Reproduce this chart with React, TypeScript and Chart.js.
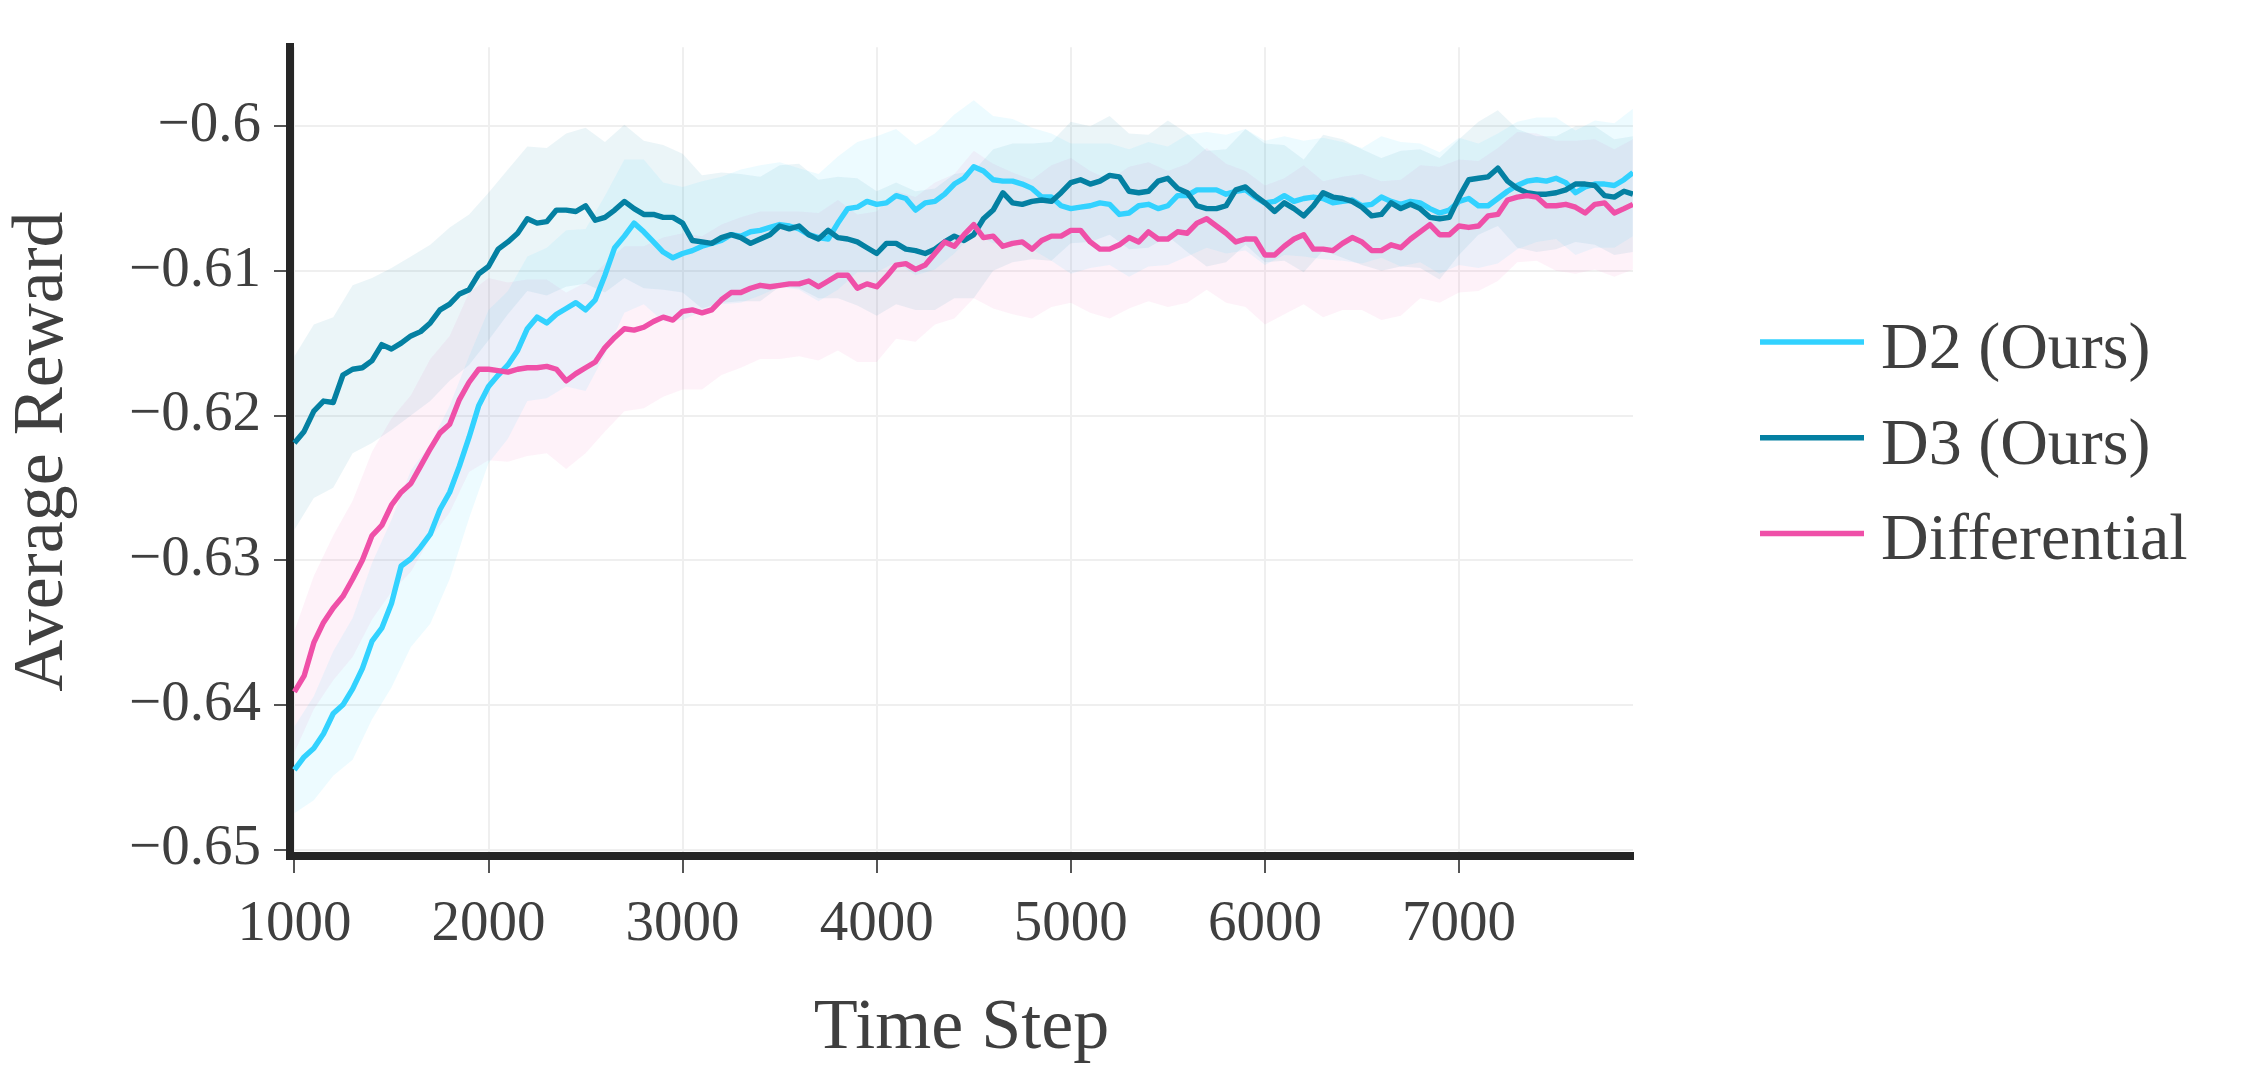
import React, { useEffect, useRef } from "react";
import { Chart, registerables } from "chart.js";

Chart.register(...registerables);

// ---------------- data ----------------
const steps = [
  1000, 1050, 1100, 1150, 1200, 1250, 1300, 1350, 1400, 1450, 1500, 1550, 1600, 1650, 1700, 1750, 1800, 1850, 1900, 1950,
  2000, 2050, 2100, 2150, 2200, 2250, 2300, 2350, 2400, 2450, 2500, 2550, 2600, 2650, 2700, 2750, 2800, 2850, 2900, 2950,
  3000, 3050, 3100, 3150, 3200, 3250, 3300, 3350, 3400, 3450, 3500, 3550, 3600, 3650, 3700, 3750, 3800, 3850, 3900, 3950,
  4000, 4050, 4100, 4150, 4200, 4250, 4300, 4350, 4400, 4450, 4500, 4550, 4600, 4650, 4700, 4750, 4800, 4850, 4900, 4950,
  5000, 5050, 5100, 5150, 5200, 5250, 5300, 5350, 5400, 5450, 5500, 5550, 5600, 5650, 5700, 5750, 5800, 5850, 5900, 5950,
  6000, 6050, 6100, 6150, 6200, 6250, 6300, 6350, 6400, 6450, 6500, 6550, 6600, 6650, 6700, 6750, 6800, 6850, 6900, 6950,
  7000, 7050, 7100, 7150, 7200, 7250, 7300, 7350, 7400, 7450, 7500, 7550, 7600, 7650, 7700, 7750, 7800, 7850, 7896,
];

const d2Mean = [
  -0.6445, -0.6436, -0.6430, -0.6420, -0.6406, -0.6400, -0.6389, -0.6375, -0.6356, -0.6347, -0.6330, -0.6304, -0.6299, -0.6291, -0.6282, -0.6265, -0.6253, -0.6235, -0.6215, -0.6193,
  -0.6180, -0.6172, -0.6165, -0.6155, -0.6140, -0.6132, -0.6136, -0.6130, -0.6126, -0.6122, -0.6127, -0.6120, -0.6103, -0.6084, -0.6076, -0.6067, -0.6073, -0.6080, -0.6087, -0.6091,
  -0.6088, -0.6086, -0.6083, -0.6081, -0.6079, -0.6075, -0.6076, -0.6073, -0.6072, -0.6070, -0.6068, -0.6069, -0.6071, -0.6075, -0.6077, -0.6078, -0.6067, -0.6057, -0.6056, -0.6052,
  -0.6054, -0.6053, -0.6048, -0.6050, -0.6058, -0.6053, -0.6052, -0.6047, -0.6040, -0.6036, -0.6028, -0.6031, -0.6037, -0.6038, -0.6038, -0.6040, -0.6043, -0.6049, -0.6049, -0.6055,
  -0.6057, -0.6056, -0.6055, -0.6053, -0.6054, -0.6061, -0.6060, -0.6055, -0.6054, -0.6057, -0.6055, -0.6048, -0.6048, -0.6044, -0.6044, -0.6044, -0.6047, -0.6045, -0.6044, -0.6049,
  -0.6053, -0.6052, -0.6048, -0.6052, -0.6050, -0.6049, -0.6050, -0.6053, -0.6052, -0.6051, -0.6055, -0.6054, -0.6049, -0.6052, -0.6054, -0.6052, -0.6053, -0.6057, -0.6060, -0.6058,
  -0.6052, -0.6050, -0.6055, -0.6055, -0.6050, -0.6045, -0.6041, -0.6038, -0.6037, -0.6038, -0.6036, -0.6039, -0.6046, -0.6042, -0.6040, -0.6040, -0.6041, -0.6037, -0.6032,
];

const d3Mean = [
  -0.6219, -0.6211, -0.6197, -0.6190, -0.6191, -0.6172, -0.6168, -0.6167, -0.6162, -0.6151, -0.6154, -0.6150, -0.6145, -0.6142, -0.6136, -0.6127, -0.6123, -0.6116, -0.6113, -0.6102,
  -0.6097, -0.6085, -0.6080, -0.6074, -0.6064, -0.6067, -0.6066, -0.6058, -0.6058, -0.6059, -0.6055, -0.6065, -0.6063, -0.6058, -0.6052, -0.6057, -0.6061, -0.6061, -0.6063, -0.6063,
  -0.6067, -0.6079, -0.6080, -0.6081, -0.6077, -0.6075, -0.6077, -0.6081, -0.6078, -0.6075, -0.6069, -0.6071, -0.6069, -0.6075, -0.6078, -0.6072, -0.6077, -0.6078, -0.6080, -0.6084,
  -0.6088, -0.6081, -0.6081, -0.6085, -0.6086, -0.6088, -0.6085, -0.6080, -0.6076, -0.6079, -0.6075, -0.6064, -0.6058, -0.6046, -0.6053, -0.6054, -0.6052, -0.6051, -0.6052, -0.6046,
  -0.6039, -0.6037, -0.6040, -0.6038, -0.6034, -0.6035, -0.6045, -0.6046, -0.6045, -0.6038, -0.6036, -0.6043, -0.6046, -0.6055, -0.6057, -0.6057, -0.6055, -0.6044, -0.6042, -0.6048,
  -0.6053, -0.6059, -0.6053, -0.6057, -0.6062, -0.6055, -0.6046, -0.6049, -0.6050, -0.6052, -0.6056, -0.6062, -0.6061, -0.6053, -0.6057, -0.6054, -0.6057, -0.6063, -0.6064, -0.6063,
  -0.6049, -0.6037, -0.6036, -0.6035, -0.6029, -0.6038, -0.6043, -0.6046, -0.6047, -0.6047, -0.6046, -0.6044, -0.6040, -0.6040, -0.6041, -0.6048, -0.6049, -0.6045, -0.6047,
];

const diffMean = [
  -0.6391, -0.6380, -0.6357, -0.6343, -0.6333, -0.6325, -0.6313, -0.6300, -0.6283, -0.6276, -0.6262, -0.6253, -0.6247, -0.6235, -0.6223, -0.6212, -0.6206, -0.6189, -0.6177, -0.6168,
  -0.6168, -0.6169, -0.6170, -0.6168, -0.6167, -0.6167, -0.6166, -0.6168, -0.6176, -0.6171, -0.6167, -0.6163, -0.6153, -0.6146, -0.6140, -0.6141, -0.6139, -0.6135, -0.6132, -0.6134,
  -0.6128, -0.6127, -0.6129, -0.6127, -0.6120, -0.6115, -0.6115, -0.6112, -0.6110, -0.6111, -0.6110, -0.6109, -0.6109, -0.6107, -0.6111, -0.6107, -0.6103, -0.6103, -0.6112, -0.6109,
  -0.6111, -0.6104, -0.6096, -0.6095, -0.6099, -0.6096, -0.6088, -0.6080, -0.6083, -0.6075, -0.6068, -0.6077, -0.6076, -0.6083, -0.6081, -0.6080, -0.6085, -0.6079, -0.6076, -0.6076,
  -0.6072, -0.6072, -0.6080, -0.6085, -0.6085, -0.6082, -0.6077, -0.6080, -0.6073, -0.6078, -0.6078, -0.6073, -0.6074, -0.6067, -0.6064, -0.6069, -0.6074, -0.6080, -0.6078, -0.6078,
  -0.6089, -0.6089, -0.6083, -0.6078, -0.6075, -0.6085, -0.6085, -0.6086, -0.6081, -0.6077, -0.6080, -0.6086, -0.6086, -0.6082, -0.6084, -0.6078, -0.6073, -0.6068, -0.6075, -0.6075,
  -0.6069, -0.6070, -0.6069, -0.6062, -0.6061, -0.6051, -0.6049, -0.6048, -0.6049, -0.6055, -0.6055, -0.6054, -0.6056, -0.6060, -0.6054, -0.6053, -0.6060, -0.6057, -0.6054,
];

// standard deviation (x 0.001), one value for every second entry of `steps`
const d2Std = [
  3.0, 3.6, 4.3, 4.9, 5.4, 5.8, 6.1, 6.2, 6.0, 5.6, 5.3, 5.1, 5.0, 5.2, 5.4, 5.6, 5.5, 5.3, 5.0, 4.8,
  4.6, 4.5, 4.4, 4.6, 4.5, 4.3, 4.2, 4.4, 4.6, 4.5, 4.7, 4.6, 4.5, 4.7, 4.8, 4.6, 4.4, 4.3, 4.2, 4.4,
  4.5, 4.3, 4.2, 4.4, 4.3, 4.1, 4.2, 4.0, 4.1, 4.2, 4.3, 4.1, 4.0, 4.2, 4.1, 4.0, 4.2, 4.3, 4.1, 4.2,
  4.4, 4.3, 4.5, 4.4, 4.3, 4.2, 4.3, 4.4, 4.3, 4.4,
];
const d3Std = [
  6.0, 6.0, 5.9, 5.8, 5.7, 5.6, 5.5, 5.4, 5.3, 5.2, 5.1, 5.0, 5.0, 5.1, 5.3, 5.4, 5.2, 5.3, 5.1, 5.0,
  4.8, 4.6, 4.5, 4.4, 4.3, 4.2, 4.3, 4.1, 4.2, 4.4, 4.3, 4.2, 4.1, 4.2, 4.3, 4.4, 4.2, 4.1, 4.0, 4.1,
  4.2, 4.0, 4.1, 4.0, 3.9, 4.0, 4.1, 4.0, 3.9, 4.0, 4.1, 4.0, 3.9, 4.0, 4.1, 4.0, 3.9, 4.0, 4.1, 4.2,
  4.0, 3.9, 4.0, 4.1, 4.0, 3.9, 4.0, 4.1, 4.0, 4.0,
];
const diffStd = [
  4.2, 4.6, 5.0, 5.4, 5.8, 6.0, 6.1, 6.2, 6.1, 6.2, 6.3, 6.2, 6.1, 6.0, 6.1, 5.9, 5.8, 5.7, 5.6, 5.5,
  5.4, 5.3, 5.2, 5.2, 5.1, 5.1, 5.0, 5.1, 5.2, 5.1, 5.2, 5.1, 5.0, 4.9, 5.0, 5.1, 5.0, 4.9, 4.8, 4.9,
  5.0, 4.9, 4.8, 4.9, 4.8, 4.7, 4.8, 4.9, 4.8, 4.7, 4.8, 4.7, 4.8, 4.7, 4.6, 4.7, 4.8, 4.7, 4.6, 4.7,
  4.6, 4.5, 4.6, 4.5, 4.4, 4.5, 4.6, 4.5, 4.4, 4.5,
];

const seriesNames = ["D2 (Ours)", "D3 (Ours)", "Differential"];
const seriesColors = ["#32d2ff", "#0480a2", "#ef50a8"];
const bandColors = ["rgba(50,210,255,0.085)", "rgba(4,128,162,0.08)", "rgba(239,80,168,0.075)"];

const xTicks = [1000, 2000, 3000, 4000, 5000, 6000, 7000];
const yTicks = [-0.65, -0.64, -0.63, -0.62, -0.61, -0.6];

const xTitle = "Time Step";
const yTitle = "Average Reward";

// ---------------- chart ----------------
const FONT = "'Liberation Serif', 'Times New Roman', Times, serif";
const TEXT = "#3f3f3f";

const means = [d2Mean, d3Mean, diffMean];
const stds = [d2Std, d3Std, diffStd];

function linePoints(mean: number[]) {
  return mean.map((v, i) => ({ x: steps[i], y: v }));
}
function bandPoints(mean: number[], std: number[], sign: number) {
  return std.map((s, j) => ({ x: steps[2 * j], y: mean[2 * j] + sign * s / 1000 }));
}

const sideLegend = {
  id: "sideLegend",
  afterDraw(chart: any) {
    const ctx = chart.ctx as CanvasRenderingContext2D;
    const right = chart.chartArea.right;
    ctx.save();
    seriesNames.forEach((name, i) => {
      const cy = 342 + i * 95.7;
      ctx.strokeStyle = seriesColors[i];
      ctx.lineWidth = 5.5;
      ctx.lineCap = "butt";
      ctx.beginPath();
      ctx.moveTo(right + 127, cy);
      ctx.lineTo(right + 231, cy);
      ctx.stroke();
      ctx.fillStyle = TEXT;
      ctx.font = `66px ${FONT}`;
      ctx.textAlign = "left";
      ctx.textBaseline = "alphabetic";
      ctx.fillText(name, right + 248, cy + 26);
    });
    ctx.restore();
  },
};

export default function App() {
  const ref = useRef<HTMLCanvasElement>(null);

  useEffect(() => {
    if (!ref.current) return;
    const datasets: any[] = [];
    means.forEach((m, k) => {
      datasets.push({
        label: seriesNames[k] + " lo",
        data: bandPoints(m, stds[k], -1),
        borderWidth: 0,
        borderColor: "transparent",
        pointRadius: 0,
        fill: false,
        order: 5,
      });
      datasets.push({
        label: seriesNames[k] + " hi",
        data: bandPoints(m, stds[k], 1),
        borderWidth: 0,
        borderColor: "transparent",
        backgroundColor: bandColors[k],
        pointRadius: 0,
        fill: "-1",
        order: 5,
      });
    });
    means.forEach((m, k) => {
      datasets.push({
        label: seriesNames[k],
        data: linePoints(m),
        borderColor: seriesColors[k],
        borderWidth: 5.4,
        borderJoinStyle: "round",
        pointRadius: 0,
        fill: false,
        tension: 0,
        order: 3 - k,
      });
    });

    const chart = new Chart(ref.current, {
      type: "line",
      data: { datasets },
      plugins: [sideLegend],
      options: {
        animation: false,
        responsive: false,
        maintainAspectRatio: false,
        devicePixelRatio: 1,
        layout: { padding: { left: 0, top: 44, right: 617, bottom: 0 } },
        plugins: {
          legend: { display: false },
          tooltip: { enabled: false },
          title: { display: false },
        },
        elements: { point: { radius: 0 }, line: { tension: 0 } },
        scales: {
          x: {
            type: "linear",
            min: 977.3,
            max: 7896.4,
            afterBuildTicks: (s: any) => {
              s.ticks = xTicks.map((value) => ({ value }));
            },
            afterFit: (s: any) => {
              s.height = 230;
            },
            grid: {
              color: "#efefef",
              lineWidth: 2,
              drawTicks: true,
              tickLength: 17,
              tickColor: "#555555",
              tickWidth: 2,
            },
            border: { display: true, color: "#262626", width: 8 },
            ticks: {
              autoSkip: false,
              maxRotation: 0,
              padding: 18,
              color: TEXT,
              font: { family: FONT, size: 57 },
              callback: (v: any) => String(v),
            },
            title: {
              display: true,
              text: xTitle,
              color: TEXT,
              font: { family: FONT, size: 72 },
              padding: { top: 0, bottom: 14 },
            },
          },
          y: {
            type: "linear",
            min: -0.650448,
            max: -0.59454,
            afterBuildTicks: (s: any) => {
              s.ticks = yTicks.map((value) => ({ value }));
            },
            afterFit: (s: any) => {
              s.width = 290;
            },
            grid: {
              color: "#efefef",
              lineWidth: 2,
              drawTicks: true,
              tickLength: 16,
              tickColor: "#555555",
              tickWidth: 2,
            },
            border: { display: true, color: "#262626", width: 8 },
            ticks: {
              autoSkip: false,
              padding: 13,
              color: TEXT,
              font: { family: FONT, size: 57 },
              callback: (v: any) => "\u2212" + String(Math.round(Math.abs(Number(v)) * 100) / 100),
            },
            title: {
              display: true,
              text: yTitle,
              color: TEXT,
              font: { family: FONT, size: 72 },
              padding: { top: 0, bottom: 0 },
            },
          },
        },
      } as any,
    });
    return () => chart.destroy();
  }, []);

  return (
    <div style={{ position: "fixed", left: 0, top: 0, width: 2250, height: 1086, background: "#ffffff" }}>
      <canvas ref={ref} width={2250} height={1086} style={{ width: 2250, height: 1086, display: "block" }} />
    </div>
  );
}
